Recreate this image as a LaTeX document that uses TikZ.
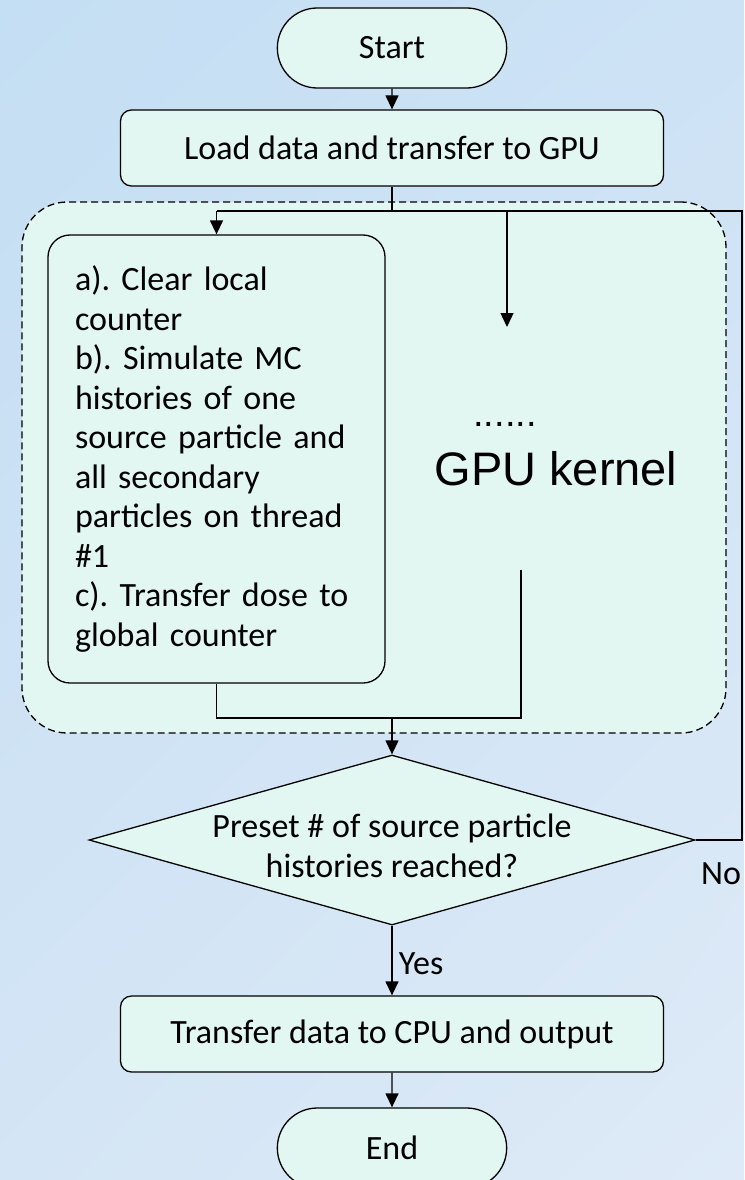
\documentclass[tikz,border=0pt]{standalone}
\usepackage{fontspec}
\setmainfont{Carlito}
\newfontfamily\arialfont{Liberation Sans}
\usepackage{xcolor}
\usetikzlibrary{arrows.meta, shapes.misc, shapes.geometric, shadings, positioning}
\frenchspacing

\definecolor{bgtopleft}{HTML}{C4DEF3}
\definecolor{bgtopright}{HTML}{CDE2F5}
\definecolor{bgbottomleft}{HTML}{D4E5F5}
\definecolor{bgbottomright}{HTML}{DEEAF7}
\definecolor{boxfill}{HTML}{E2F6F2}

\tikzset{
    txt/.style={font=\fontsize{34}{39.5}\selectfont},
    terminal/.style={txt, draw, fill=boxfill, line width=1.3pt, rounded rectangle,
        minimum width=236pt, minimum height=80pt},
    process/.style={txt, draw, fill=boxfill, line width=1.3pt, rounded corners=11pt,
        minimum width=543pt, minimum height=76pt},
    stepbox/.style={txt, draw, fill=boxfill, line width=1.3pt, rounded corners=22pt,
        minimum width=337pt, minimum height=448pt, text width=283pt, inner xsep=27pt, align=left},
    kernelbox/.style={draw, fill=boxfill, line width=1.3pt, dash pattern=on 7pt off 4pt,
        rounded corners=45pt, minimum width=704pt, minimum height=531pt},
    decision/.style={draw, fill=boxfill, line width=1.3pt, diamond, inner sep=0pt,
        minimum width=606pt, minimum height=170pt},
    wire/.style={line width=1.3pt},
    flow/.style={wire, -{Triangle[width=13pt,length=14pt]}},
}

\begin{document}
\begin{tikzpicture}[x=1pt, y=1pt]
    \useasboundingbox (0, 0) rectangle (744, -1180);
    \shade[upper left=bgtopleft, upper right=bgtopright,
           lower left=bgbottomleft, lower right=bgbottomright]
        (0, 0) rectangle (744, -1180);

    \node[terminal] (start) at (392, -48) {Start};
    \node[process] (load) at (392, -148) {Load data and transfer to GPU};

    \node[kernelbox] (kernel) at (374, -467.5) {};
    \node[stepbox] (steps) at (216.5, -459) {a). Clear local\\counter\\b). Simulate MC\\histories of one\\source particle and\\all secondary\\particles on thread\\\#1\\c). Transfer dose to\\global counter};
    \node[font=\arialfont\fontsize{38}{40}\selectfont] (dots) at (505, -424) {......};
    \node[font=\arialfont\fontsize{47}{50}\selectfont] (kname) at (556, -469) {GPU kernel};

    \node[decision] (check) at (392, -840) {};
    \node[txt, align=center] (question) at (392, -846) {Preset \# of source particle\\histories reached?};

    \node[process] (transfer) at (392, -1034) {Transfer data to CPU and output};
    \node[terminal] (finish) at (392, -1148) {End};

    % split into the threads
    \coordinate (split) at (392, -211);
    \coordinate (splitL) at (216.5, -211);
    \coordinate (splitR) at (507, -211);
    \coordinate (loopR) at (742, -211);
    \coordinate (more) at (507, -327);

    % merge after the threads
    \coordinate (merge) at (392, -718);
    \coordinate (mergeR) at (521, -718);
    \coordinate (moreEnd) at (521, -570);

    \draw[flow] (start) -- (load);
    \draw[wire] (load) -- (split);
    \draw[wire] (check.east) -| (loopR) -- (splitL);
    \draw[flow] (splitL) -- (steps);
    \draw[flow] (splitR) -- (more);
    \draw[wire] (steps) |- (mergeR) -- (moreEnd);
    \draw[flow] (merge) -- (check);
    \draw[flow] (check) -- node[txt, right=3pt, pos=0.55] (yes) {Yes} (transfer);
    \draw[flow] (transfer) -- (finish);

    \node[txt] (no) at (721, -874) {No};
\end{tikzpicture}
\end{document}
